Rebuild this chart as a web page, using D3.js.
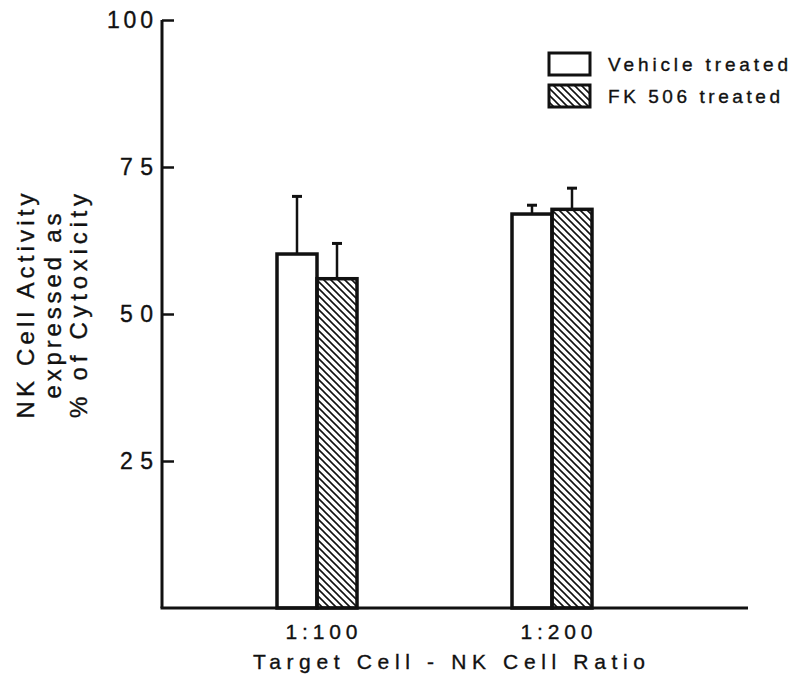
<!DOCTYPE html>
<html>
<head>
<meta charset="utf-8">
<script src="https://cdn.jsdelivr.net/npm/d3@7"></script>
<style>
  body { margin: 0; background: #fff; }
  svg text { font-family: "Liberation Sans", Arial, sans-serif; fill: #111; stroke: #111; stroke-width: 0.35; }
</style>
</head>
<body>
<div id="chart"></div>
<script>
// values
const ratios = ["1:100", "1:200"];
const seriesNames = ["Vehicle treated", "FK 506 treated"];
const vehicle = [60.2, 67.0];
const vehicleErr = [9.8, 1.5];
const fk506 = [56.0, 67.8];
const fk506Err = [6.0, 3.6];
const yTicks = [25, 50, 75, 100];

const width = 800, height = 695;
const x0 = 162, x1 = 748, yBase = 608, yTop = 20;

const svg = d3.select('#chart')
  .append('svg')
  .attr('width', width)
  .attr('height', height);

const defs = svg.append('defs');
defs.append('pattern')
  .attr('id', 'hatch')
  .attr('patternUnits', 'userSpaceOnUse')
  .attr('width', 7)
  .attr('height', 7)
  .append('path')
  .attr('d', 'M0,0L7,7M-1,6L1,8M6,-1L8,1')
  .attr('stroke', '#111')
  .attr('stroke-width', 1.6);

const y = d3.scaleLinear().domain([0, 100]).range([yBase, yTop]);
const x = d3.scalePoint().domain(ratios).range([317, 552]);
const inner = d3.scaleBand().domain(seriesNames).range([-40, 40]).padding(0);

const rows = ratios.map((r, i) => ({
  ratio: r,
  bars: [
    { name: seriesNames[0], value: vehicle[i], err: vehicleErr[i], fill: '#fff' },
    { name: seriesNames[1], value: fk506[i], err: fk506Err[i], fill: 'url(#hatch)' }
  ]
}));

const groups = svg.selectAll('.grp')
  .data(rows)
  .join('g')
  .attr('class', 'grp')
  .attr('transform', d => `translate(${x(d.ratio)},0)`);

// error bars (upper only)
groups.selectAll('.err')
  .data(d => d.bars)
  .join('g')
  .attr('class', 'err')
  .each(function (d) {
    const g = d3.select(this);
    const cx = inner(d.name) + inner.bandwidth() / 2;
    g.append('line')
      .attr('x1', cx).attr('x2', cx)
      .attr('y1', y(d.value)).attr('y2', y(d.value + d.err))
      .attr('stroke', '#111').attr('stroke-width', 2.5);
    g.append('line')
      .attr('x1', cx - 5).attr('x2', cx + 5)
      .attr('y1', y(d.value + d.err)).attr('y2', y(d.value + d.err))
      .attr('stroke', '#111').attr('stroke-width', 3);
  });

groups.selectAll('rect')
  .data(d => d.bars)
  .join('rect')
  .attr('x', d => inner(d.name))
  .attr('width', inner.bandwidth())
  .attr('y', d => y(d.value))
  .attr('height', d => yBase - y(d.value))
  .attr('fill', d => d.fill)
  .attr('stroke', '#111')
  .attr('stroke-width', 3.5);

// y axis, ticks pointing inward
const yAxis = svg.append('g')
  .attr('transform', `translate(${x0},0)`)
  .call(d3.axisLeft(y).tickValues(yTicks).tickSizeInner(-12).tickSizeOuter(0).tickPadding(10));
yAxis.select('.domain').attr('stroke', '#111').attr('stroke-width', 3)
  .attr('d', `M0,${yBase}V${yTop}`);
yAxis.selectAll('.tick line').attr('stroke', '#111').attr('stroke-width', 2.5);
yAxis.selectAll('.tick text')
  .attr('font-size', 23)
  .attr('x', -9)
  .attr('textLength', d => d === 100 ? 46 : 33)
  .attr('lengthAdjust', 'spacing');

// x axis
svg.append('line')
  .attr('x1', x0 - 1.5).attr('x2', x1)
  .attr('y1', yBase).attr('y2', yBase)
  .attr('stroke', '#111').attr('stroke-width', 3);

const xAxis = svg.append('g')
  .attr('transform', `translate(0,${yBase})`)
  .call(d3.axisBottom(x).tickSize(0).tickPadding(0));
xAxis.select('.domain').remove();
xAxis.selectAll('.tick text')
  .attr('font-size', 21)
  .attr('dy', null)
  .attr('y', 31)
  .attr('x', 4)
  .attr('textLength', 72)
  .attr('lengthAdjust', 'spacing');

svg.append('text')
  .attr('x', 449)
  .attr('y', 669)
  .attr('text-anchor', 'middle')
  .attr('font-size', 21)
  .attr('textLength', 392)
  .attr('lengthAdjust', 'spacing')
  .text('Target Cell - NK Cell Ratio');

// y label, three lines
const yLabel = ['NK Cell Activity', 'expressed as', '% of Cytoxicity'];
const yLabelLen = [225, 185, 224];
svg.append('g')
  .attr('transform', 'translate(0,306) rotate(-90)')
  .selectAll('text')
  .data(yLabel)
  .join('text')
  .attr('x', 0)
  .attr('y', (d, i) => 34 + i * 26.5)
  .attr('text-anchor', 'middle')
  .attr('font-size', 24)
  .attr('textLength', (d, i) => yLabelLen[i])
  .attr('lengthAdjust', 'spacing')
  .text(d => d);

// legend
const legend = svg.append('g').attr('transform', 'translate(549,53)');
const legendFills = ['#fff', 'url(#hatch)'];
const legendLen = [180, 172];
legend.selectAll('rect')
  .data(seriesNames)
  .join('rect')
  .attr('x', 0)
  .attr('y', (d, i) => i * 32)
  .attr('width', 41)
  .attr('height', 22)
  .attr('fill', (d, i) => legendFills[i])
  .attr('stroke', '#111')
  .attr('stroke-width', 3);
legend.selectAll('text')
  .data(seriesNames)
  .join('text')
  .attr('x', 59)
  .attr('y', (d, i) => 18 + i * 32)
  .attr('font-size', 19)
  .attr('textLength', (d, i) => legendLen[i])
  .attr('lengthAdjust', 'spacing')
  .text(d => d);
</script>
</body>
</html>
